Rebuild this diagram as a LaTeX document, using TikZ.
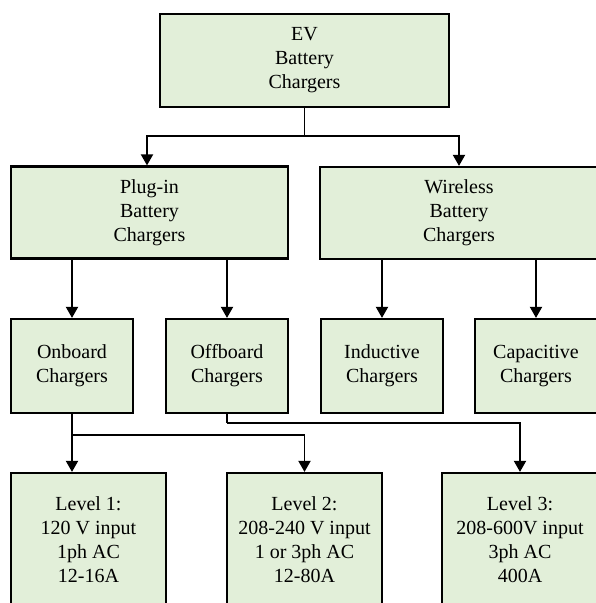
\documentclass[tikz,border=0pt]{standalone}
\usepackage{fontspec}
\setmainfont{Liberation Serif}
\usetikzlibrary{arrows.meta}
\definecolor{boxfill}{HTML}{E2EFD9}
\begin{document}
\begin{tikzpicture}[x=1pt,y=-1pt,
  box/.style={draw=black,fill=boxfill,line width=2.2pt,inner sep=0pt,align=center,
    font=\fontsize{20pt}{24pt}\selectfont},
  arr/.style={line width=1.9pt,-{Triangle[width=12pt,length=11pt]}},
  conn/.style={line width=1.9pt}]
\useasboundingbox (0,0) rectangle (596,603);
\clip (0,0) rectangle (596,603);
% top
\node[box,minimum width=289pt,minimum height=93pt] (ev) at (304.5,60.5) {EV\\Battery\\Chargers};
% second row
\node[box,minimum width=277pt,minimum height=92pt] (plug) at (149.5,212.5) {Plug-in\\Battery\\Chargers};
\node[box,minimum width=278pt,minimum height=92pt] (wire) at (459,213) {Wireless\\Battery\\Chargers};
% third row
\node[box,minimum width=122pt,minimum height=94pt] (onb) at (72,366) {Onboard\\Chargers};
\node[box,minimum width=122pt,minimum height=94pt] (offb) at (227,366) {Offboard\\Chargers};
\node[box,minimum width=122pt,minimum height=94pt] (ind) at (382,366) {Inductive\\Chargers};
\node[box,minimum width=122pt,minimum height=94pt] (cap) at (536,366) {Capacitive\\Chargers};
% bottom row
\node[box,minimum width=155pt,minimum height=134pt] (l1) at (88.5,540) {Level 1:\\120 V input\\1ph AC\\12-16A};
\node[box,minimum width=155pt,minimum height=134pt] (l2) at (304.5,540) {Level 2:\\208-240 V input\\1 or 3ph AC\\12-80A};
\node[box,minimum width=156pt,minimum height=134pt] (l3) at (520,540) {Level 3:\\208-600V input\\3ph AC\\400A};
% connectors
\coordinate (j0) at ([yshift=-28pt]ev.south);
\draw[conn] (ev.south) -- (j0);
\draw[arr] (j0) -| ([xshift=-2.5pt]plug.north);
\draw[arr] (j0) -| (wire.north);
\draw[arr] (plug.south -| onb.north) -- (onb.north);
\draw[arr] (plug.south -| offb.north) -- (offb.north);
\draw[arr] (wire.south -| ind.north) -- (ind.north);
\draw[arr] (wire.south -| cap.north) -- (cap.north);
\coordinate (j1) at ([yshift=-21pt]onb.south);
\draw[arr] (onb.south) -- (onb.south |- l1.north);
\draw[arr] (j1) -| (l2.north);
\coordinate (j2) at ([yshift=-9pt]offb.south);
\draw[conn] (offb.south) -- (j2);
\draw[arr] (j2) -| (l3.north);
\end{tikzpicture}
\end{document}
